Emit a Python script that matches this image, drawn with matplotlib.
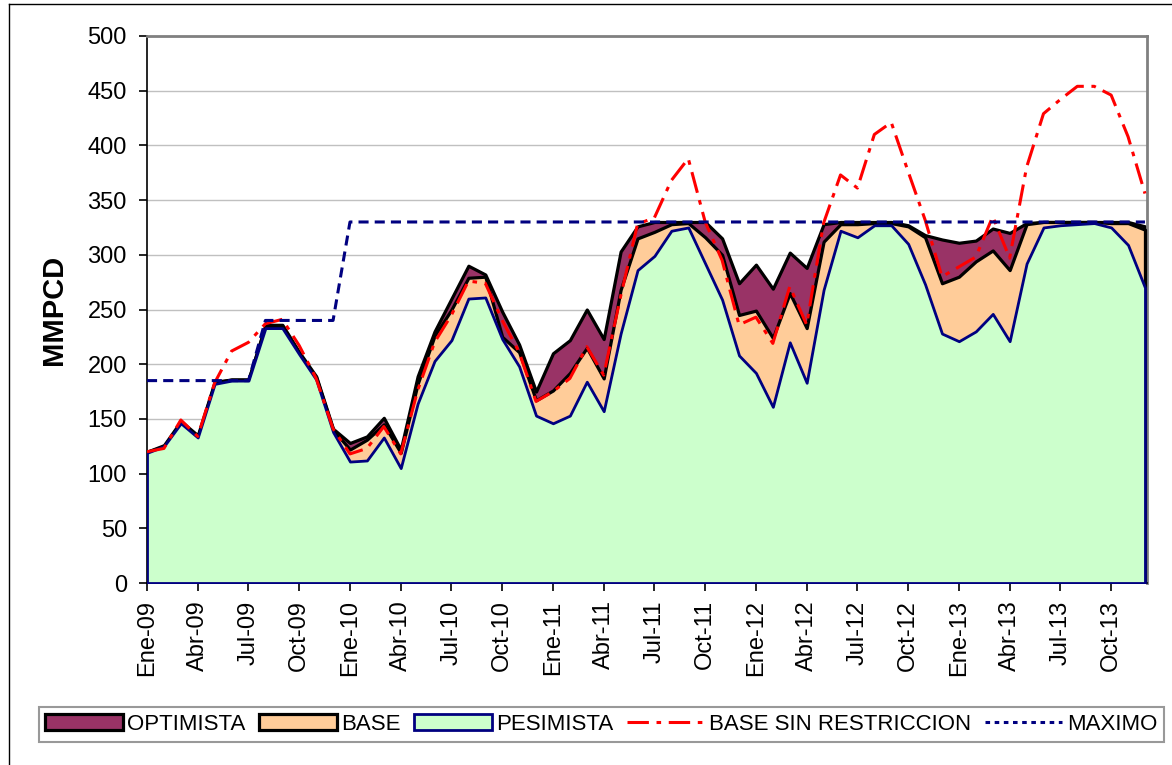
import numpy as np
import matplotlib
matplotlib.use("Agg")
import matplotlib.pyplot as plt
from matplotlib.patches import Patch
from matplotlib.lines import Line2D

plt.rcParams['font.family'] = ['Liberation Sans', 'DejaVu Sans']

# meses Ene-09 .. Dic-13
meses = ['Ene', 'Feb', 'Mar', 'Abr', 'May', 'Jun', 'Jul', 'Ago', 'Sep', 'Oct', 'Nov', 'Dic']
anios = ['09', '10', '11', '12', '13']
fechas = [m + '-' + a for a in anios for m in meses]

optimista = [120, 126, 148, 135, 184, 186, 186, 236, 236, 211, 189, 141,
             128, 134, 151, 122, 189, 230, 260, 290, 282, 248, 218, 175,
             210, 222, 250, 223, 303, 326, 330, 330, 330, 330, 315, 274,
             291, 269, 302, 288, 328, 330, 330, 330, 330, 327, 318, 314,
             311, 313, 324, 320, 329, 330, 330, 330, 330, 330, 330, 326]
base = [120, 125, 147, 134, 183, 186, 186, 235, 235, 210, 188, 140,
        122, 131, 145, 119, 182, 226, 250, 279, 280, 225, 211, 167,
        176, 192, 215, 187, 268, 315, 321, 328, 329, 316, 300, 245,
        249, 224, 265, 233, 312, 328, 328, 329, 329, 326, 316, 274,
        280, 294, 304, 286, 328, 330, 330, 330, 330, 329, 329, 323]
pesimista = [119, 125, 146, 133, 182, 185, 185, 233, 233, 209, 186, 138,
             111, 112, 133, 105, 164, 203, 222, 260, 261, 223, 198, 153,
             146, 153, 184, 157, 228, 286, 299, 322, 325, 292, 259, 208,
             192, 161, 220, 183, 268, 322, 316, 327, 327, 310, 273, 228,
             221, 230, 246, 221, 292, 325, 327, 328, 329, 325, 309, 270]
base_sin_restr = [120, 123, 149, 134, 183, 212, 220, 237, 241, 217, 187, 141,
                  118, 123, 143, 118, 176, 220, 245, 276, 274, 240, 211, 166,
                  175, 187, 216, 190, 262, 328, 334, 368, 388, 330, 295, 236,
                  243, 219, 271, 236, 329, 373, 361, 410, 421, 376, 332, 280,
                  289, 298, 335, 297, 380, 429, 442, 454, 454, 446, 408, 356]
maximo = [185] * 7 + [240] * 5 + [330] * 48

x = np.arange(len(fechas))

fig = plt.figure(figsize=(11.72, 7.65), dpi=100)
ax = fig.add_axes([147 / 1172, 1 - 583 / 765, (1147 - 147) / 1172, (583 - 36) / 765])

ax.fill_between(x, 0, optimista, facecolor='#993366', edgecolor='black', linewidth=2.3, zorder=2)
ax.fill_between(x, 0, base, facecolor='#FFCC99', edgecolor='black', linewidth=2.3, zorder=3)
ax.fill_between(x, 0, pesimista, facecolor='#CCFFCC', edgecolor='#000080', linewidth=2.0, zorder=4)
ax.plot(x, base_sin_restr, color='#FF0000', lw=2.2, dashes=(7, 2.5, 1.5, 2.5), zorder=5)
ax.plot(x, maximo, color='#000080', lw=2.2, dashes=(3.3, 2), dash_capstyle='butt', zorder=6)

ax.set_xlim(0, len(x) - 1 + 0.12)
ax.set_ylim(0, 500)
ax.set_yticks(np.arange(0, 501, 50))
ax.set_xticks(x[::3])
ax.set_xticklabels(fechas[::3], rotation=90, fontsize=17)
ax.tick_params(axis='y', labelsize=17, pad=9, length=5.5, width=1.2, direction='out')
ax.tick_params(axis='x', pad=7, length=5.5, width=1.2, direction='out')
ax.grid(axis='y', color='#C0C0C0', lw=1, zorder=0)
ax.set_axisbelow(True)
for s in ['top', 'right']:
    ax.spines[s].set_color('#808080')
    ax.spines[s].set_linewidth(2)
for s in ['left', 'bottom']:
    ax.spines[s].set_color('black')
    ax.spines[s].set_linewidth(1.2)
ax.set_ylabel('MMPCD', fontsize=21, fontweight='bold', labelpad=14)

handles = [
    Patch(facecolor='#993366', edgecolor='black', linewidth=2.3),
    Patch(facecolor='#FFCC99', edgecolor='black', linewidth=2.3),
    Patch(facecolor='#CCFFCC', edgecolor='#000080', linewidth=2.0),
    Line2D([], [], color='#FF0000', lw=2.2, dashes=(7, 2.5, 1.5, 2.5)),
    Line2D([], [], color='#000080', lw=2.2, dashes=(1.5, 1.5)),
]
labels = ['OPTIMISTA', 'BASE', 'PESIMISTA', 'BASE SIN RESTRICCION', 'MAXIMO']
leg = fig.legend(handles, labels, loc='center', bbox_to_anchor=(0.513, 0.053), ncol=5,
                 fontsize=16, handlelength=3.5, handletextpad=0.2, columnspacing=0.6,
                 frameon=True, fancybox=False, edgecolor='#808080', borderpad=0.3)
leg.get_frame().set_linewidth(1.5)

# borde del area del grafico
fig.add_artist(Line2D([9 / 1172, 9 / 1172], [0, 1 - 4 / 765], color='black', lw=1,
                      transform=fig.transFigure))
fig.add_artist(Line2D([9 / 1172, 1], [1 - 4 / 765, 1 - 4 / 765], color='black', lw=1,
                      transform=fig.transFigure))

fig.savefig('out.png', dpi=100)
